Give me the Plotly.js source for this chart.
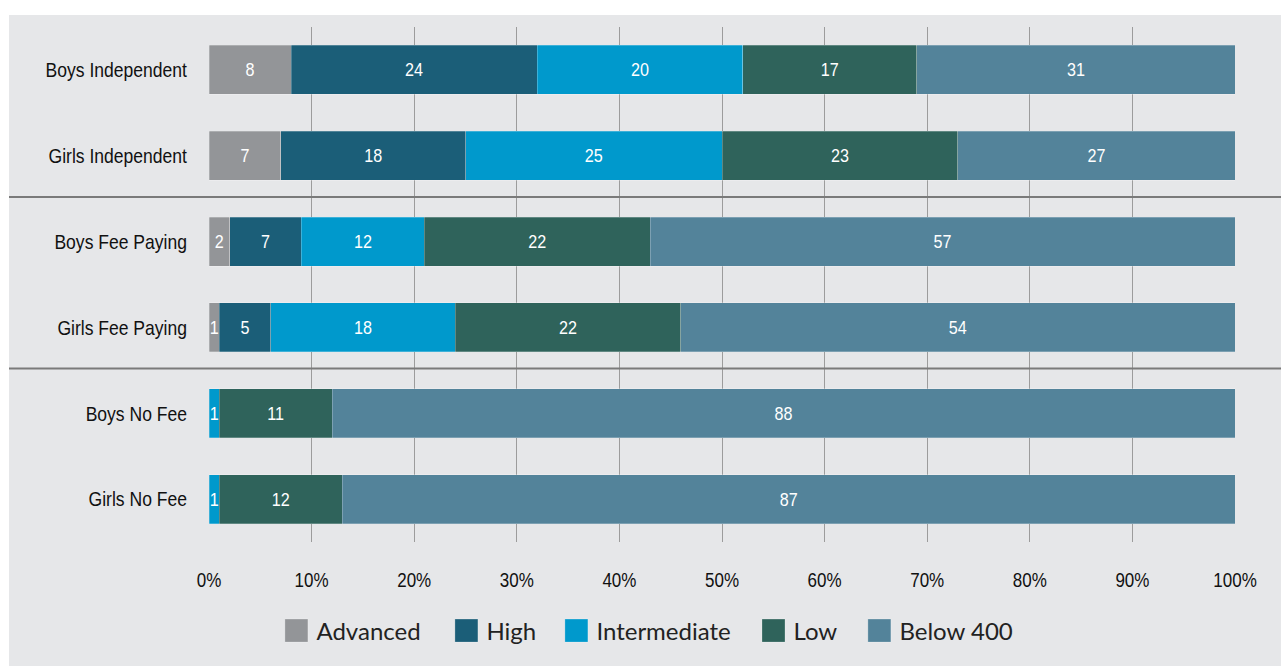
<!DOCTYPE html>
<html>
<head>
<meta charset="utf-8">
<script src="https://cdn.plot.ly/plotly-3.0.1.min.js"></script>
<style>
  html, body { margin: 0; padding: 0; background: #ffffff; }
  #chart { position: absolute; left: 9px; top: 15px; width: 1272px; height: 651px; }
</style>
</head>
<body>
<div id="chart"></div>
<script>
const categories = ["Boys Independent", "Girls Independent", "Boys Fee Paying", "Girls Fee Paying", "Boys No Fee", "Girls No Fee"];
const seriesNames = ["Advanced", "High", "Intermediate", "Low", "Below 400"];
const advanced     = [8, 7, 2, 1, 0, 0];
const high         = [24, 18, 7, 5, 0, 0];
const intermediate = [20, 25, 12, 18, 1, 1];
const low          = [17, 23, 22, 22, 11, 12];
const below400     = [31, 27, 57, 54, 88, 87];
const xTickVals    = [0, 10, 20, 30, 40, 50, 60, 70, 80, 90, 100];
const xTickText    = ["0%", "10%", "20%", "30%", "40%", "50%", "60%", "70%", "80%", "90%", "100%"];

const colors = ["#939598", "#1b5e78", "#0099cc", "#2f635b", "#53839a"];
const allSeries = [advanced, high, intermediate, low, below400];
const sans = "Liberation Sans, Arial, sans-serif";

// one small legend per series, so entry spacing can follow the reference
const legendIds = ["legend", "legend2", "legend3", "legend4", "legend5"];
const legendX = [0.0657, 0.2314, 0.3386, 0.5307, 0.6339];

const traces = allSeries.map((vals, i) => ({
  type: "bar",
  orientation: "h",
  name: seriesNames[i],
  legend: legendIds[i],
  y: categories,
  x: vals,
  text: vals.map(v => v > 0 ? String(v) : ""),
  textposition: "inside",
  insidetextanchor: "middle",
  textangle: 0,
  textfont: { color: "#ffffff", size: 19, family: sans },
  marker: { color: colors[i], line: { color: "rgba(255,255,255,0.3)", width: 0.8 } },
  hoverinfo: "x+y+name"
}));

const plotLeft = 200, plotWidth = 1026, divWidth = 1272;
const sepX0 = -plotLeft / plotWidth;
const sepX1 = (divWidth - plotLeft) / plotWidth;

const layout = {
  width: 1272,
  height: 651,
  paper_bgcolor: "#e6e7e9",
  plot_bgcolor: "#e6e7e9",
  barmode: "stack",
  bargap: 0.43,
  margin: { l: 200, r: 46, t: 12, b: 124 },
  xaxis: {
    range: [0, 100],
    tickvals: xTickVals,
    ticktext: xTickText,
    showgrid: true,
    gridcolor: "#9c9c9c",
    gridwidth: 1,
    zeroline: false,
    showline: false,
    ticks: "",
    ticklabelstandoff: 24,
    tickfont: { family: sans, size: 20, color: "#111111" },
    fixedrange: true
  },
  yaxis: {
    autorange: "reversed",
    showgrid: false,
    zeroline: false,
    showline: false,
    ticks: "",
    ticklabelstandoff: 21,
    tickfont: { family: sans, size: 21, color: "#111111" },
    fixedrange: true
  },
  shapes: [1.48, 3.48].map(yv => ({
    type: "line",
    xref: "paper", yref: "y",
    x0: sepX0, x1: sepX1, y0: yv, y1: yv,
    line: { color: "#7a7a7a", width: 2 },
    layer: "above"
  })),
  showlegend: true,
  uniformtext: { mode: "show", minsize: 19 }
};

legendIds.forEach((id, i) => {
  layout[id] = {
    orientation: "h",
    x: legendX[i], xanchor: "left",
    y: -0.1728, yanchor: "middle",
    font: { family: "Lato, Noto Sans, sans-serif", size: 24, color: "#222222" },
    bgcolor: "rgba(0,0,0,0)",
    borderwidth: 0
  };
});

function condense(selector, factor) {
  document.querySelectorAll(selector).forEach(t => {
    const len = t.getComputedTextLength();
    if (len > 0) {
      t.setAttribute("textLength", (len * factor).toFixed(2));
      t.setAttribute("lengthAdjust", "spacingAndGlyphs");
    }
  });
}

function bigSwatches() {
  document.querySelectorAll("#chart g.legendpoints path").forEach(p => {
    p.setAttribute("d", "M11.5,11.5H-11.5V-11.5H11.5Z");
  });
}

Plotly.newPlot("chart", traces, layout, { displayModeBar: false, staticPlot: true }).then(() => {
  condense("#chart .ytick text", 0.835);
  condense("#chart .xtick text", 0.85);
  condense("#chart text.bartext", 0.85);
  bigSwatches();
  setTimeout(bigSwatches, 0);
});
</script>
</body>
</html>
